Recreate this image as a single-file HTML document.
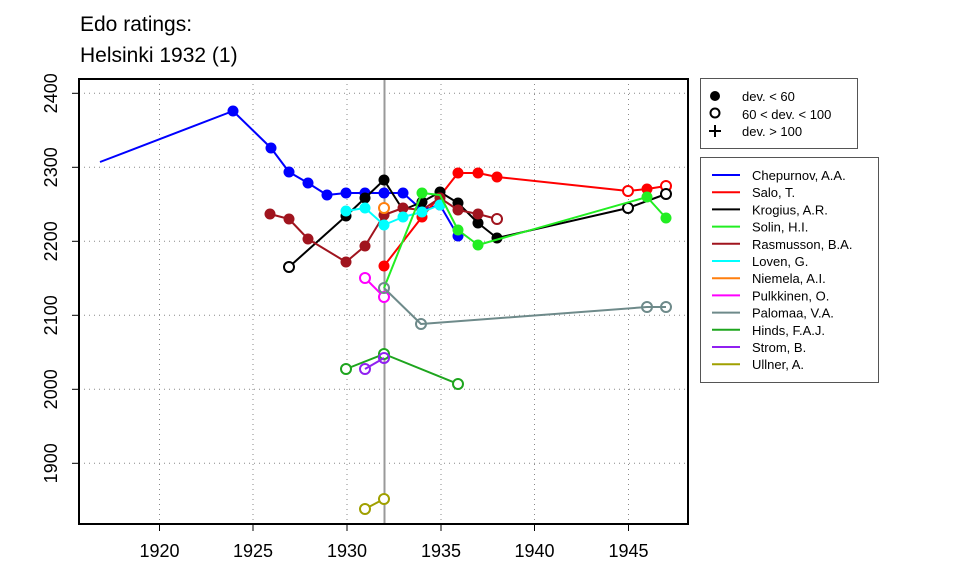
<!DOCTYPE html>
<html><head><meta charset="utf-8"><style>body{margin:0;background:#fff}svg{display:block}</style></head>
<body>
<svg width="960" height="576" xmlns="http://www.w3.org/2000/svg" font-family="Liberation Sans, sans-serif">
<rect width="960" height="576" fill="#fff"/>
<text x="80" y="31" font-size="21">Edo ratings:</text>
<text x="80" y="62" font-size="21">Helsinki 1932 (1)</text>
<g stroke="#888" stroke-width="1" stroke-dasharray="1,4">
<line x1="159.5" y1="79" x2="159.5" y2="524"/><line x1="253" y1="79" x2="253" y2="524"/><line x1="347" y1="79" x2="347" y2="524"/><line x1="441" y1="79" x2="441" y2="524"/><line x1="534.5" y1="79" x2="534.5" y2="524"/><line x1="628.5" y1="79" x2="628.5" y2="524"/>
<line x1="79" y1="93.3" x2="688" y2="93.3"/><line x1="79" y1="167.3" x2="688" y2="167.3"/><line x1="79" y1="241.3" x2="688" y2="241.3"/><line x1="79" y1="315.3" x2="688" y2="315.3"/><line x1="79" y1="389.3" x2="688" y2="389.3"/><line x1="79" y1="463.3" x2="688" y2="463.3"/>
</g>
<line x1="384.5" y1="79" x2="384.5" y2="524" stroke="#999" stroke-width="2"/>
<g fill="none" stroke-width="2" stroke-linejoin="round">
<polyline stroke="#0000ff" points="100,162 233,111 271,148 289,172 308,183 327,195 346,193 365,193 384,193 403,193 422,210 440,205 458,236"/>
<g fill="#0000ff" stroke="none"><circle cx="233" cy="111" r="5.5"/><circle cx="271" cy="148" r="5.5"/><circle cx="289" cy="172" r="5.5"/><circle cx="308" cy="183" r="5.5"/><circle cx="327" cy="195" r="5.5"/><circle cx="346" cy="193" r="5.5"/><circle cx="365" cy="193" r="5.5"/><circle cx="384" cy="193" r="5.5"/><circle cx="403" cy="193" r="5.5"/><circle cx="422" cy="210" r="5.5"/><circle cx="440" cy="205" r="5.5"/><circle cx="458" cy="236" r="5.5"/></g>
<polyline stroke="#ff0000" points="384,266 422,217 440,196 458,173 478,173 497,177 628,191 647,189 666,186"/>
<g fill="#ff0000" stroke="none"><circle cx="384" cy="266" r="5.5"/><circle cx="422" cy="217" r="5.5"/><circle cx="458" cy="173" r="5.5"/><circle cx="478" cy="173" r="5.5"/><circle cx="497" cy="177" r="5.5"/><circle cx="647" cy="189" r="5.5"/></g>
<g stroke="#ff0000" fill="#fff"><circle cx="628" cy="191" r="5"/><circle cx="666" cy="186" r="5"/></g>
<polyline stroke="#000" points="289,267 346,216 365,198 384,180 403,210 422,202 440,192 458,203 478,223 497,238 628,208 666,194"/>
<g fill="#000" stroke="none"><circle cx="346" cy="216" r="5.5"/><circle cx="365" cy="198" r="5.5"/><circle cx="384" cy="180" r="5.5"/><circle cx="422" cy="202" r="5.5"/><circle cx="440" cy="192" r="5.5"/><circle cx="458" cy="203" r="5.5"/><circle cx="478" cy="223" r="5.5"/><circle cx="497" cy="238" r="5.5"/></g>
<g stroke="#000" fill="#fff"><circle cx="289" cy="267" r="5"/><circle cx="628" cy="208" r="5"/><circle cx="666" cy="194" r="5"/></g>
<polyline stroke="#a0141e" points="270,214 289,219 308,239 346,262 365,246 384,215 403,208 422,210 440,198 458,210 478,214 497,219"/>
<g fill="#a0141e" stroke="none"><circle cx="270" cy="214" r="5.5"/><circle cx="289" cy="219" r="5.5"/><circle cx="308" cy="239" r="5.5"/><circle cx="346" cy="262" r="5.5"/><circle cx="365" cy="246" r="5.5"/><circle cx="384" cy="215" r="5.5"/><circle cx="403" cy="208" r="5.5"/><circle cx="440" cy="198" r="5.5"/><circle cx="458" cy="210" r="5.5"/><circle cx="478" cy="214" r="5.5"/></g>
<circle cx="497" cy="219" r="5" stroke="#a0141e" fill="#fff"/>
<polyline stroke="#00ffff" points="346,211 365,208 384,225 403,217 422,212 440,205"/>
<g fill="#00ffff" stroke="none"><circle cx="346" cy="211" r="5.5"/><circle cx="365" cy="208" r="5.5"/><circle cx="384" cy="225" r="5.5"/><circle cx="403" cy="217" r="5.5"/><circle cx="422" cy="212" r="5.5"/><circle cx="440" cy="205" r="5.5"/></g>
<polyline stroke="#22ee22" points="384,288 422,193 440,195 458,230 478,245 647,197 666,218"/>
<g fill="#22ee22" stroke="none"><circle cx="422" cy="193" r="5.5"/><circle cx="458" cy="230" r="5.5"/><circle cx="478" cy="245" r="5.5"/><circle cx="647" cy="197" r="5.5"/><circle cx="666" cy="218" r="5.5"/></g>
<circle cx="384" cy="208" r="5" stroke="#ff7f0e" fill="#fff"/>
<polyline stroke="#ff00ff" points="365,278 384,297"/>
<g stroke="#ff00ff" fill="#fff"><circle cx="365" cy="278" r="5"/><circle cx="384" cy="297" r="5"/></g>
<polyline stroke="#6e8a8a" points="384,288 421,324 647,307 666,307"/>
<g stroke="#6e8a8a" fill="none"><circle cx="384" cy="288" r="5"/><circle cx="421" cy="324" r="5"/><circle cx="647" cy="307" r="5"/><circle cx="666" cy="307" r="5"/></g>
<polyline stroke="#1ea51e" points="346,369 384,354 458,384"/>
<g stroke="#1ea51e" fill="#fff"><circle cx="346" cy="369" r="5"/><circle cx="458" cy="384" r="5"/><circle cx="384" cy="354" r="5"/></g>
<polyline stroke="#9020f0" points="365,369 384,358"/>
<g stroke="#9020f0" fill="none"><circle cx="365" cy="369" r="5"/><circle cx="384" cy="358" r="5"/></g>
<polyline stroke="#a0a000" points="365,509 384,499"/>
<g stroke="#a0a000" fill="#fff"><circle cx="365" cy="509" r="5"/><circle cx="384" cy="499" r="5"/></g>
</g>
<rect x="79" y="79" width="609" height="445" fill="none" stroke="#000" stroke-width="2"/>
<g stroke="#000" stroke-width="1">
<line x1="159.5" y1="524" x2="159.5" y2="531"/><line x1="253" y1="524" x2="253" y2="531"/><line x1="347" y1="524" x2="347" y2="531"/><line x1="441" y1="524" x2="441" y2="531"/><line x1="534.5" y1="524" x2="534.5" y2="531"/><line x1="628.5" y1="524" x2="628.5" y2="531"/>
<line x1="72" y1="93.3" x2="79" y2="93.3"/><line x1="72" y1="167.3" x2="79" y2="167.3"/><line x1="72" y1="241.3" x2="79" y2="241.3"/><line x1="72" y1="315.3" x2="79" y2="315.3"/><line x1="72" y1="389.3" x2="79" y2="389.3"/><line x1="72" y1="463.3" x2="79" y2="463.3"/>
</g>
<g font-size="18" text-anchor="middle">
<text x="159.5" y="557">1920</text><text x="253" y="557">1925</text><text x="347" y="557">1930</text><text x="441" y="557">1935</text><text x="534.5" y="557">1940</text><text x="628.5" y="557">1945</text>
<text transform="translate(57,93.3) rotate(-90)">2400</text><text transform="translate(57,167.3) rotate(-90)">2300</text><text transform="translate(57,241.3) rotate(-90)">2200</text><text transform="translate(57,315.3) rotate(-90)">2100</text><text transform="translate(57,389.3) rotate(-90)">2000</text><text transform="translate(57,463.3) rotate(-90)">1900</text>
</g>
<rect x="700.5" y="78.5" width="157" height="70" fill="#fff" stroke="#555"/>
<circle cx="715" cy="96" r="5" fill="#000"/>
<circle cx="715" cy="113" r="4.5" fill="none" stroke="#000" stroke-width="2"/>
<path d="M709 131h12M715 125v12" stroke="#000" stroke-width="2"/>
<g font-size="13"><text x="742" y="101">dev. &lt; 60</text><text x="742" y="119">60 &lt; dev. &lt; 100</text><text x="742" y="136">dev. &gt; 100</text></g>
<rect x="700.5" y="157.5" width="178" height="225" fill="#fff" stroke="#555"/>
<g stroke-width="2">
<line x1="712" y1="175" x2="740" y2="175" stroke="#0000ff"/>
<line x1="712" y1="192.2" x2="740" y2="192.2" stroke="#ff0000"/>
<line x1="712" y1="209.4" x2="740" y2="209.4" stroke="#000"/>
<line x1="712" y1="226.6" x2="740" y2="226.6" stroke="#22ee22"/>
<line x1="712" y1="243.8" x2="740" y2="243.8" stroke="#a0141e"/>
<line x1="712" y1="261" x2="740" y2="261" stroke="#00ffff"/>
<line x1="712" y1="278.2" x2="740" y2="278.2" stroke="#ff7f0e"/>
<line x1="712" y1="295.4" x2="740" y2="295.4" stroke="#ff00ff"/>
<line x1="712" y1="312.6" x2="740" y2="312.6" stroke="#6e8a8a"/>
<line x1="712" y1="329.8" x2="740" y2="329.8" stroke="#1ea51e"/>
<line x1="712" y1="347" x2="740" y2="347" stroke="#9020f0"/>
<line x1="712" y1="364.2" x2="740" y2="364.2" stroke="#a0a000"/>
</g>
<g font-size="13">
<text x="752" y="180">Chepurnov, A.A.</text><text x="752" y="197.2">Salo, T.</text><text x="752" y="214.4">Krogius, A.R.</text><text x="752" y="231.6">Solin, H.I.</text><text x="752" y="248.8">Rasmusson, B.A.</text><text x="752" y="266">Loven, G.</text><text x="752" y="283.2">Niemela, A.I.</text><text x="752" y="300.4">Pulkkinen, O.</text><text x="752" y="317.6">Palomaa, V.A.</text><text x="752" y="334.8">Hinds, F.A.J.</text><text x="752" y="352">Strom, B.</text><text x="752" y="369.2">Ullner, A.</text>
</g>
</svg>
</body></html>
